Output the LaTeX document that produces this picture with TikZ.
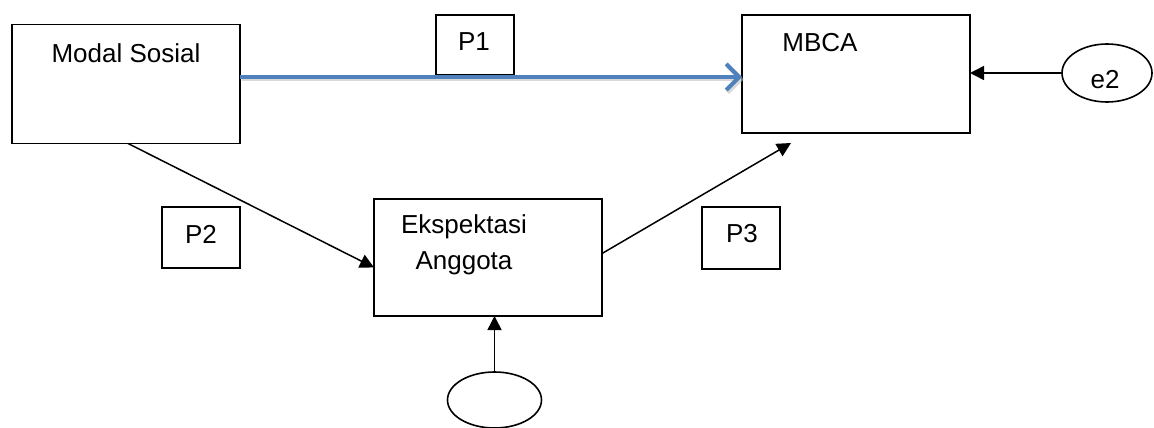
\documentclass[tikz,border=0pt]{standalone}
\usepackage{fontspec}
\setmainfont{Liberation Sans}
\usetikzlibrary{arrows.meta,shapes.geometric}
\definecolor{arrowblue}{RGB}{79,129,189}
\begin{document}
\begin{tikzpicture}[x=1pt,y=-1pt,
  box/.style={draw=black,line width=1.8pt,fill=white,inner sep=0pt,outer sep=0pt},
  oval/.style={draw=black,line width=1.6pt,ellipse,fill=white,inner sep=0pt,outer sep=0pt},
  txt/.style={inner sep=0pt,font=\fontsize{26}{30}\selectfont},
  blk/.style={draw=black,line width=1.5pt,-{Triangle[length=14pt,width=14pt]}},
  bluearrow/.style={draw=arrowblue,line width=4pt,-{Straight Barb[length=13pt,width=26pt]}},
  shadowarrow/.style={draw=black!25,line width=4pt,opacity=0.6,-{Straight Barb[length=13pt,width=26pt]}}
]
\useasboundingbox (0,0) rectangle (1154,428);
% boxes
\node[box,minimum width=228pt,minimum height=119pt] (ms) at (126,84) {};
\node[box,minimum width=78pt,minimum height=60pt] (p1) at (475,45) {};
\node[box,minimum width=228pt,minimum height=118pt] (mb) at (856,74) {};
\node[box,minimum width=78pt,minimum height=61pt] (p2) at (201,237.5) {};
\node[box,minimum width=228pt,minimum height=117pt] (ek) at (488,257.5) {};
\node[box,minimum width=78pt,minimum height=62pt] (p3) at (741,238) {};
\node[oval,minimum width=90pt,minimum height=58pt] (e2) at (1107,73) {};
\node[oval,minimum width=94pt,minimum height=56pt] (el) at (494.5,400) {};
% texts
\node[txt] (tms) at (126,53) {Modal Sosial};
\node[txt] (tp1) at (474,42) {P1};
\node[txt] (tmb) at (820,43) {MBCA};
\node[txt] (tp2) at (201,234) {P2};
\node[txt] (tp3) at (742,234) {P3};
\node[txt] (te2) at (1105,80) {e2};
\node[txt,anchor=base] (tek1) at (464,233) {Ekspektasi};
\node[txt,anchor=base] (tek2) at (464,269) {Anggota};
% connectors
\coordinate (mbin) at ([xshift=49pt,yshift=-10pt]mb.south west);
\draw[shadowarrow] ([xshift=1.5pt,yshift=-2.5pt]ms.east |- 0,77) -- ([xshift=1.5pt,yshift=-2.5pt]mb.west |- 0,77);
\draw[bluearrow] (ms.east |- 0,77) -- (mb.west |- 0,77);
\draw[blk] (ms.-88) -- (ek.185);
\draw[blk] (ek.2) -- (mbin);
\draw[blk] (e2.west) -- (mb.east |- e2.west);
\draw[blk] (el.north) -- (ek.south -| el.north);
\end{tikzpicture}
\end{document}
